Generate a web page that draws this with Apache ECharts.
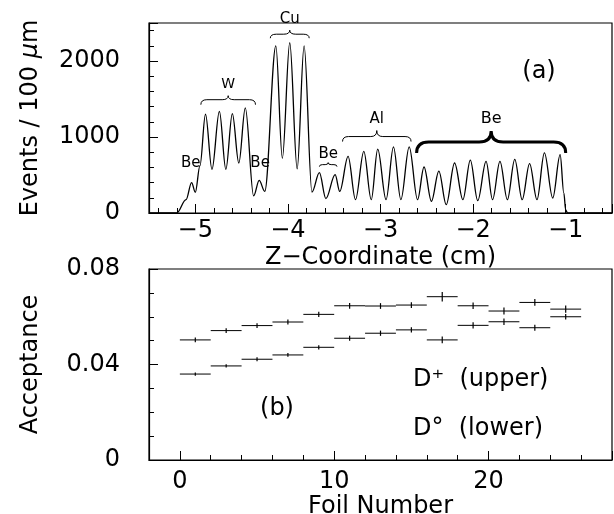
<!DOCTYPE html>
<html><head><meta charset="utf-8">
<script src="https://cdn.jsdelivr.net/npm/echarts@6.0.0/dist/echarts.min.js"></script>
<style>html,body{margin:0;padding:0;background:#fff}#c{width:614px;height:514px}</style>
</head><body><div id="c"></div>
<script>
// ---- Panel (a): vertex histogram (z in cm, events / 100 um) ----
const histZ = [-5.50,-5.20,-5.10,-5.04,-5.00,-4.95,-4.89,-4.82,-4.74,-4.67,-4.60,-4.53,-4.46,-4.37,-4.31,-4.25,
  -4.13,-4.06,-3.98,-3.90,-3.825,-3.74,-3.66,-3.59,-3.49,-3.44,-3.35,-3.27,-3.18,-3.10,-3.03,-2.94,-2.86,-2.78,
  -2.69,-2.60,-2.53,-2.45,-2.37,-2.29,-2.20,-2.11,-2.03,-1.95,-1.86,-1.79,-1.71,-1.63,-1.55,-1.47,-1.39,-1.31,
  -1.23,-1.14,-1.06,-1.02,-1.00,-0.98,-0.50];
const histN = [0,0,175,400,272,620,1300,575,1337,575,1307,658,1382,225,430,285,
  2200,720,2240,580,2200,275,530,190,505,284,745,175,811,175,840,175,870,175,
  870,175,605,153,552,110,658,175,695,162,680,175,680,175,705,175,650,175,
  790,197,767,260,40,0,0];
// target braces: start z, end z, level (events) of brace tips, label
const braceFrom  = [-4.94, -4.19, -3.66, -3.41, -2.61];
const braceTo    = [-4.35, -3.77, -3.47, -2.67, -1.00];
const braceLevel = [1425, 2300, 610, 940, 790];
const braceText  = ['W', 'Cu', 'Be', 'Al', 'Be'];
// loose labels (no brace)
const noteText = ['Be', 'Be'];
const noteZ = [-5.05, -4.30];
const noteN = [658, 660];

// ---- Panel (b): acceptance per foil ----
const foils    = [1,3,5,7,9,11,13,15,17,19,21,23,25];
const dPlus    = [0.0503,0.0542,0.0563,0.0578,0.0610,0.0646,0.0645,0.0649,0.0684,0.0646,0.0624,0.0660,0.0632];
const dPlusErr = [0.0010,0.0010,0.0010,0.0010,0.0011,0.0012,0.0012,0.0012,0.0020,0.0014,0.0015,0.0014,0.0015];
const dZero    = [0.0360,0.0394,0.0422,0.0440,0.0472,0.0510,0.0531,0.0545,0.0503,0.0564,0.0579,0.0554,0.0600];
const dZeroErr = [0.0007,0.0007,0.0008,0.0008,0.0009,0.0010,0.0011,0.0011,0.0014,0.0013,0.0014,0.0013,0.0012];

const FONT = 'DejaVu Sans';
const braceStyle = [
  {h1:5, h2:4, r:6, w:1, gap:4, fs:14},
  {h1:4, h2:4, r:6, w:1, gap:4, fs:15},
  {h1:2, h2:2, r:3, w:1, gap:1, fs:15},
  {h1:5, h2:6, r:6, w:1, gap:4, fs:15},
  {h1:11, h2:11, r:12, w:3, gap:4, fs:16}
];

const chart = echarts.init(document.getElementById('c'), null, {renderer:'canvas'});

function axisCommon(){
  return {
    axisLine:{show:true, onZero:false, lineStyle:{color:'#000', width:1.2}},
    axisTick:{show:true, inside:true, length:9, lineStyle:{color:'#000', width:1}},
    minorTick:{show:true, length:5, lineStyle:{color:'#000', width:1}},
    splitLine:{show:false},
    minorSplitLine:{show:false},
    nameTextStyle:{fontFamily:FONT, fontSize:24, color:'#000'},
    nameLocation:'middle'
  };
}

function braceRender(params, api){
  const i = params.dataIndex;
  const a = api.coord([api.value(0), api.value(2)]);
  const b = api.coord([api.value(1), api.value(2)]);
  const st = braceStyle[i];
  const x1=a[0], x2=b[0], yt=a[1], yb=yt-st.h1, yc=yb-st.h2, m=(x1+x2)/2, r=st.r;
  const d = 'M'+x1+','+yt+' Q'+x1+','+yb+' '+(x1+r)+','+yb+' L'+(m-r)+','+yb+
    ' Q'+m+','+yb+' '+m+','+yc+' Q'+m+','+yb+' '+(m+r)+','+yb+' L'+(x2-r)+','+yb+
    ' Q'+x2+','+yb+' '+x2+','+yt;
  return {type:'group', children:[
    {type:'path', shape:{pathData:d}, style:{fill:null, stroke:'#000', lineWidth:st.w}},
    {type:'text', style:{text:braceText[i], x:m, y:yc-st.gap, align:'center', verticalAlign:'bottom',
      fontFamily:FONT, fontSize:st.fs, fill:'#000'}}
  ]};
}

function noteRender(params, api){
  const p = api.coord([api.value(0), api.value(1)]);
  return {type:'text', style:{text:noteText[params.dataIndex], x:p[0], y:p[1], align:'center',
    verticalAlign:'middle', fontFamily:FONT, fontSize:15, fill:'#000'}};
}

function crossRender(params, api){
  const x = api.value(0), y = api.value(1), e = api.value(2);
  const l = api.coord([x-1, y]), r = api.coord([x+1, y]);
  const t = api.coord([x, y+e]), b = api.coord([x, y-e]);
  return {type:'group', children:[
    {type:'line', shape:{x1:l[0], y1:l[1], x2:r[0], y2:r[1]}, style:{stroke:'#000', lineWidth:1}},
    {type:'line', shape:{x1:t[0], y1:t[1], x2:b[0], y2:b[1]}, style:{stroke:'#000', lineWidth:1.2}}
  ]};
}

const option = {
  animation:false,
  backgroundColor:'#fff',
  textStyle:{fontFamily:FONT},
  grid:[
    {left:149, top:23, width:463, height:190, show:true, borderColor:'#000', borderWidth:1.2,
      backgroundColor:'transparent', containLabel:false, outerBoundsMode:'none'},
    {left:149, top:269, width:463, height:191, show:true, borderColor:'#000', borderWidth:1.2,
      backgroundColor:'transparent', containLabel:false, outerBoundsMode:'none'}
  ],
  xAxis:[
    Object.assign(axisCommon(), {
      type:'value', gridIndex:0, min:-5.5, max:-0.5, splitNumber:5,
      minorTick:{show:true, splitNumber:5, length:5, lineStyle:{color:'#000', width:1}},
      axisLabel:{fontFamily:FONT, fontSize:24, color:'#000', margin:6,
        formatter:function(v){ return (Math.abs(v - Math.round(v)) < 1e-9) ? (v<0 ? '\u2212' + Math.abs(Math.round(v)) : String(Math.round(v))) : ''; }},
      name:'Z\u2212Coordinate (cm)', nameGap:33
    }),
    Object.assign(axisCommon(), {
      type:'value', gridIndex:1, min:-2, max:28, splitNumber:3,
      minorTick:{show:true, splitNumber:5, length:5, lineStyle:{color:'#000', width:1}},
      axisLabel:{fontFamily:FONT, fontSize:24, color:'#000', margin:10,
        formatter:function(v){ return (Math.abs(v % 10) < 1e-9) ? String(v) : ''; }},
      name:'Foil Number', nameGap:33
    })
  ],
  yAxis:[
    Object.assign(axisCommon(), {
      type:'value', gridIndex:0, min:0, max:2500, interval:1000,
      minorTick:{show:true, splitNumber:5, length:5, lineStyle:{color:'#000', width:1}},
      axisLabel:{fontFamily:FONT, fontSize:24, color:'#000', margin:29,
        formatter:function(v){ return (v % 1000 === 0) ? String(v) : ''; }},
      name:'Events / 100 {it|\u03bc}m', nameGap:106,
      nameTextStyle:{fontFamily:FONT, fontSize:24, color:'#000',
        rich:{it:{fontFamily:FONT, fontSize:24, fontStyle:'italic', color:'#000'}}}
    }),
    Object.assign(axisCommon(), {
      type:'value', gridIndex:1, min:0, max:0.08, interval:0.04,
      minorTick:{show:true, splitNumber:4, length:5, lineStyle:{color:'#000', width:1}},
      axisLabel:{fontFamily:FONT, fontSize:24, color:'#000', margin:29,
        formatter:function(v){ return v === 0 ? '0' : v.toFixed(2); }},
      name:'Acceptance', nameGap:106
    })
  ],
  graphic:[
    {type:'text', x:539, y:72, style:{text:'(a)', align:'center', verticalAlign:'middle', fontFamily:FONT, fontSize:24, fill:'#000'}},
    {type:'text', x:277, y:409, style:{text:'(b)', align:'center', verticalAlign:'middle', fontFamily:FONT, fontSize:24, fill:'#000'}},
    {type:'text', x:413, y:380, style:{text:'D\u207a  (upper)', align:'left', verticalAlign:'middle', fontFamily:FONT, fontSize:24, fill:'#000'}},
    {type:'text', x:413, y:429, style:{text:'D\u00b0  (lower)', align:'left', verticalAlign:'middle', fontFamily:FONT, fontSize:24, fill:'#000'}}
  ],
  series:[
    {type:'line', xAxisIndex:0, yAxisIndex:0, showSymbol:false, symbol:'none',
      smooth:0.35, smoothMonotone:'x',
      data:histZ.map(function(z,i){return [z, histN[i]];}),
      lineStyle:{color:'#000', width:1.3}, z:3},
    {type:'custom', xAxisIndex:0, yAxisIndex:0, clip:false,
      data:braceFrom.map(function(f,i){return [f, braceTo[i], braceLevel[i]];}),
      encode:{x:[0,1], y:2}, renderItem:braceRender, z:4},
    {type:'custom', xAxisIndex:0, yAxisIndex:0, clip:false,
      data:noteZ.map(function(z,i){return [z, noteN[i]];}),
      encode:{x:0, y:1}, renderItem:noteRender, z:4},
    {type:'custom', xAxisIndex:1, yAxisIndex:1,
      data:foils.map(function(f,i){return [f, dPlus[i], dPlusErr[i]];}),
      encode:{x:0, y:1}, renderItem:crossRender},
    {type:'custom', xAxisIndex:1, yAxisIndex:1,
      data:foils.map(function(f,i){return [f, dZero[i], dZeroErr[i]];}),
      encode:{x:0, y:1}, renderItem:crossRender}
  ]
};
chart.setOption(option);
</script>
</body></html>
